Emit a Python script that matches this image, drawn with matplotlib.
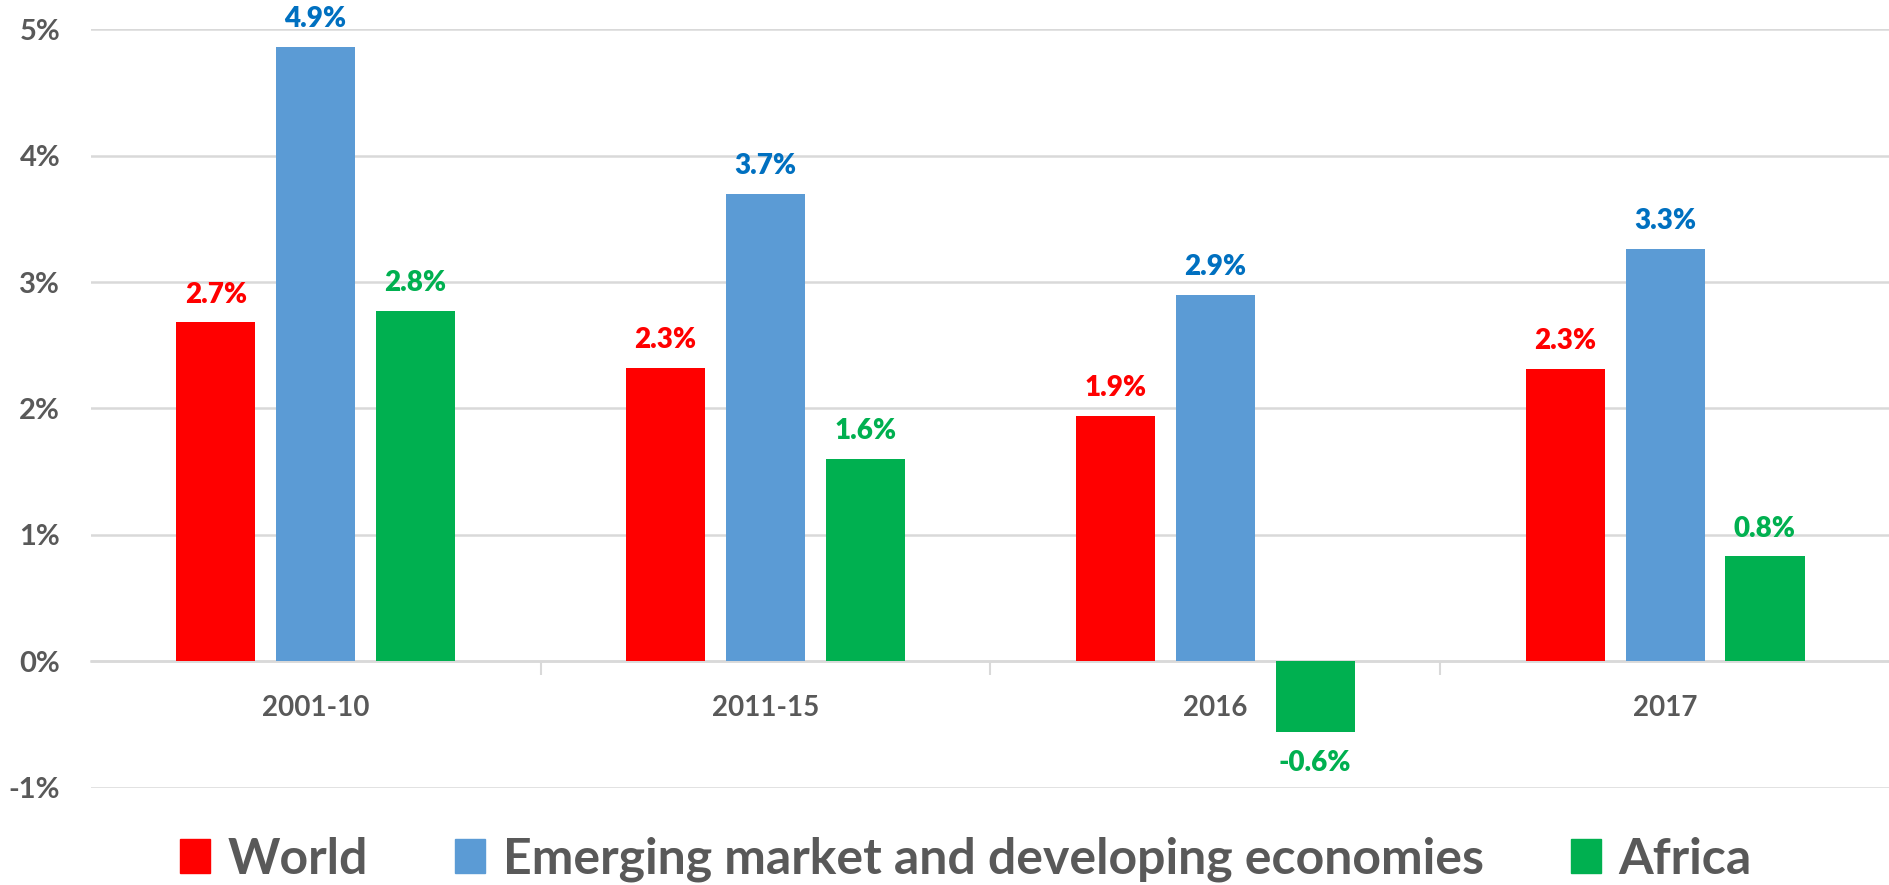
import numpy as np
import matplotlib
matplotlib.use('Agg')
import matplotlib.pyplot as plt
from matplotlib.patches import Patch

plt.rcParams['font.family'] = ['Lato', 'DejaVu Sans']
plt.rcParams['font.weight'] = 'bold'

periods = ['2001-10', '2011-15', '2016', '2017']
world = [2.68, 2.32, 1.94, 2.31]
emde = [4.86, 3.70, 2.90, 3.26]
africa = [2.77, 1.60, -0.56, 0.83]
series_names = ['World', 'Emerging market and developing economies', 'Africa']

bar_colors = ['#FF0000', '#5B9BD5', '#00B050']
label_colors = ['#FF0000', '#0070C0', '#00B050']
grey = '#595959'
grid_grey = '#D9D9D9'

fig = plt.figure(figsize=(18.9, 8.85), dpi=100)
ax = fig.add_axes([0.048, 0.110, 0.952, 0.857])

x = np.arange(len(periods))
width = 0.176
step = 0.222

for i, (vals, name) in enumerate(zip([world, emde, africa], series_names)):
    pos = x + (i - 1) * step
    ax.bar(pos, vals, width, color=bar_colors[i], label=name, zorder=3)
    for px, v in zip(pos, vals):
        off = 20 if v >= 0 else -22
        ax.annotate(f'{v:.1f}%', (px, v), xytext=(0, off), textcoords='offset points',
                    ha='center', va='center', fontsize=20, fontweight='heavy',
                    color=label_colors[i])

ax.set_xlim(-0.5, len(periods) - 0.5)
ax.set_ylim(-1, 5)
ax.set_yticks(np.arange(-1, 6, 1))
ax.set_yticklabels([f'{t}%' for t in range(-1, 6)])
ax.yaxis.grid(True, color=grid_grey, linewidth=1.8, zorder=0)
ax.tick_params(axis='y', length=0, pad=22, labelsize=21, labelcolor=grey)

ax.set_xticks(x)
ax.set_xticklabels(periods)
ax.set_xticks(np.arange(0.5, len(periods) - 0.5, 1), minor=True)
ax.tick_params(axis='x', which='major', length=0, pad=24, labelsize=20, labelcolor=grey)
ax.tick_params(axis='x', which='minor', length=10, width=1.5, color=grid_grey)

for s in ['top', 'right', 'left']:
    ax.spines[s].set_visible(False)
ax.spines['bottom'].set_position(('data', 0))
ax.spines['bottom'].set_color(grid_grey)
ax.spines['bottom'].set_linewidth(1.8)
ax.spines['bottom'].set_zorder(2)

handles = [Patch(color=c) for c in bar_colors]
leg = fig.legend(handles, series_names, loc='center', bbox_to_anchor=(0.511, 0.029),
                 ncol=3, frameon=False, fontsize=36, handlelength=0.6, handleheight=0.65,
                 handletextpad=0.35, columnspacing=1.75)
for t in leg.get_texts():
    t.set_color(grey)
    t.set_fontweight('bold')

fig.savefig('out.png', dpi=100)
